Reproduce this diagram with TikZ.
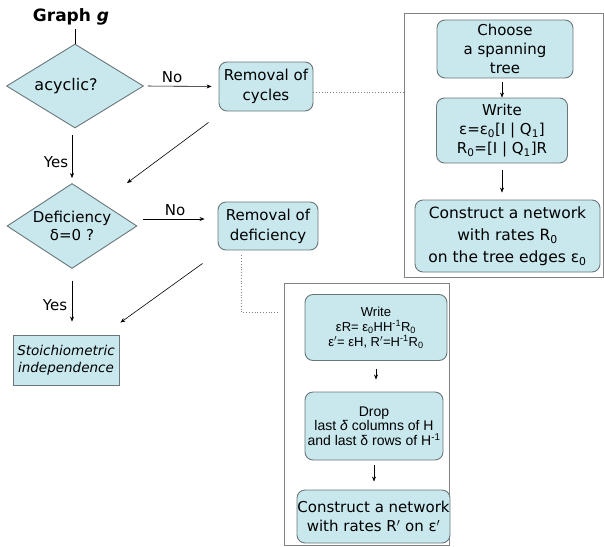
\documentclass[tikz,border=0pt]{standalone}
\usepackage{fontspec}
\setmainfont{DejaVu Sans}
\newfontfamily\arialf{Liberation Sans}
\usetikzlibrary{shapes.geometric,arrows.meta,calc}
\definecolor{boxfill}{RGB}{200,232,238}
\definecolor{boxline}{RGB}{105,118,122}
\definecolor{framec}{RGB}{130,130,130}
\begin{document}
\begin{tikzpicture}[x=1pt,y=-1pt,
  rbox/.style={draw=boxline, fill=boxfill, rounded corners=8pt, line width=0.9pt, align=center, inner sep=0pt},
  sbox/.style={draw=boxline, fill=boxfill, line width=0.9pt, align=center, inner sep=0pt},
  dia/.style={draw=boxline, fill=boxfill, diamond, line width=0.9pt, inner sep=0pt},
  framebox/.style={draw=framec, line width=0.9pt, inner sep=0pt},
  arr/.style={-{Stealth[length=5pt,width=4pt]}, line width=0.6pt},
  dots/.style={draw=gray, dotted, line width=0.8pt},
  lbl/.style={font=\fontsize{15}{17}\selectfont, inner sep=1pt}
]
\useasboundingbox (0,0) rectangle (604,546);

% main flow
\node[font=\bfseries\fontsize{17}{20}\selectfont] (title) at (71,17) {Graph \textit{g}};
\node[dia, minimum width=137pt, minimum height=84pt,
      label={[font=\fontsize{16}{18}\selectfont, xshift=-9pt]center:acyclic?}] (d1) at (75,86) {};
\node[rbox, minimum width=94pt, minimum height=49pt, font=\fontsize{15}{20}\selectfont] (rc) at (266,86.5) {Removal of\\cycles};
\node[dia, minimum width=130pt, minimum height=85pt,
      label={[align=center,font=\fontsize{15}{18}\selectfont]center:Deficiency\\δ=0 ?}] (d2) at (72,226) {};
\node[rbox, minimum width=100pt, minimum height=48pt, font=\fontsize{15}{20}\selectfont] (rd) at (268,226) {Removal of\\deficiency};
\node[sbox, minimum width=106pt, minimum height=50pt, font=\itshape\fontsize{13.5}{17}\selectfont] (st) at (66,360) {Stoichiometric\\independence};

% frame 1
\node[framebox, minimum width=199pt, minimum height=264pt] (f1) at (503.5,145) {};
\node[rbox, minimum width=136pt, minimum height=58pt, font=\fontsize{15}{19}\selectfont] (c1) at (505,49) {Choose\\a spanning\\tree};
\node[rbox, minimum width=131pt, minimum height=65pt, font=\fontsize{15}{19}\selectfont] (c2) at (502,130.5) {Write\\ε=ε\textsubscript{0}[I | Q\textsubscript{1}]\\R\textsubscript{0}=[I | Q\textsubscript{1}]R};
\node[rbox, minimum width=185pt, minimum height=72pt, font=\fontsize{15.5}{22}\selectfont] (c3) at (507.5,236) {Construct a network\\with rates R\textsubscript{0}\\on the tree edges ε\textsubscript{0}};

% frame 2
\node[framebox, minimum width=165pt, minimum height=262pt] (f2) at (366.5,414) {};
\node[rbox, minimum width=142pt, minimum height=66pt, font=\arialf\fontsize{13}{15}\selectfont] (e1) at (376,327.5) {Write\\εR= ε\textsubscript{0}HH\textsuperscript{-1}R\textsubscript{0}\\ε$'$= εH, R$'$=H\textsuperscript{-1}R\textsubscript{0}};
\node[rbox, minimum width=138pt, minimum height=68pt, font=\arialf\fontsize{14}{14.5}\selectfont] (e2) at (374,426) {Drop\\last \textit{δ} columns of H\\and last δ rows of H\textsuperscript{-1}};
\node[rbox, minimum width=153pt, minimum height=53pt, font=\fontsize{15}{19}\selectfont] (e3) at (373.5,516.5) {Construct a network\\with rates R$'$ on ε$'$};

% connectors
\draw[line width=0.6pt] (title.south -| d1.north) -- (d1.north);
\draw[arr, shorten <=4pt, shorten >=7pt] (d1.east) -- (rc.west);
\node[lbl] (no1) at (172,77) {No};
\draw[arr, shorten <=7pt, shorten >=5pt] (d1.south -| d2.north) -- (d2.north);
\node[lbl] (yes1) at (56,162) {Yes};
\draw[arr] ($(rc.south west)+(-10,11)$) -- ($(d2.north)+(55,0)$);
\draw[arr] ($(d2.east)+(6,-7)$) -- ($(rd.west)+(-13,-7)$);
\node[lbl] (no2) at (175,210) {No};
\draw[arr, shorten <=12pt, shorten >=13pt] (d2.south) -- (d2.south |- st.north);
\node[lbl] (yes2) at (55,305) {Yes};
\draw[arr] ($(rd.south west)+(-15,13)$) -- ($(st.north east)+(1,-12)$);

\coordinate (rcx) at ($(rc.east)+(0,6)$);
\draw[dots] (rcx) -- (rcx -| f1.west);
\coordinate (rdx) at ($(rd.south west)+(24,5)$);
\coordinate (rdend) at ($(rdx)+(36,57)$);
\draw[dots] (rdx) |- (rdend);

\draw[arr, shorten <=4pt] (c1.south -| c2.north) -- (c2.north);
\draw[arr, shorten <=7pt, shorten >=7pt] (c2.south) -- (c2.south |- c3.north);
\draw[arr, shorten <=8pt, shorten >=12pt] (e1.south) -- (e1.south |- e2.north);
\draw[arr, shorten <=5pt, shorten >=8pt] (e2.south) -- (e2.south |- e3.north);
\end{tikzpicture}
\end{document}
